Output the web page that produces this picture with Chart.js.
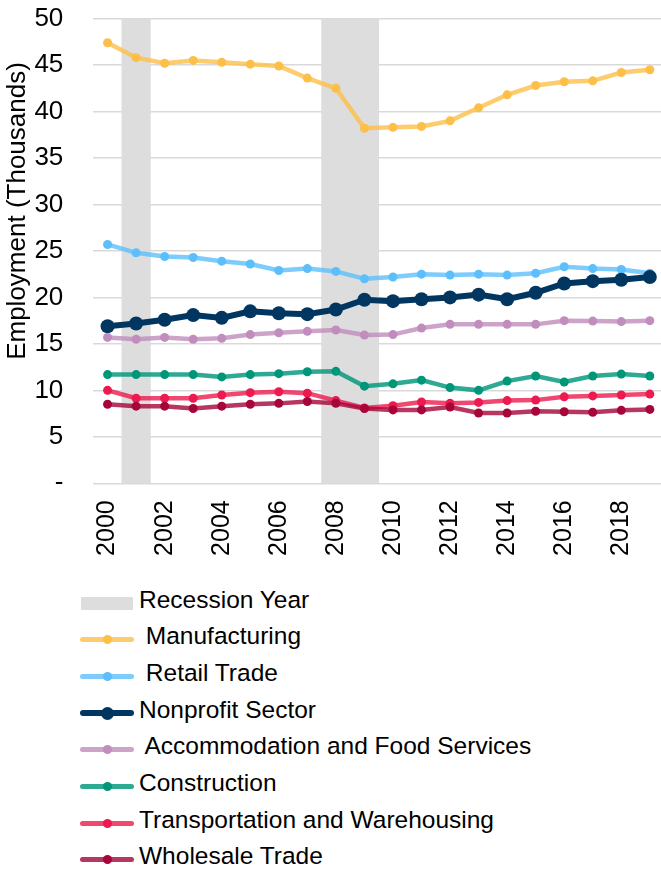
<!DOCTYPE html>
<html>
<head>
<meta charset="utf-8">
<script src="https://cdn.jsdelivr.net/npm/chart.js@4/dist/chart.umd.min.js"></script>
<style>
  html, body { margin: 0; padding: 0; background: #fff; overflow: hidden; }
  #wrap { position: relative; width: 661px; height: 873px; overflow: hidden; }
  #c { position: absolute; left: 0; top: -27px; }
  .row { position: absolute; left: 0; height: 36.67px; width: 661px; }
  .txt { position: absolute; left: 139px; top: 1px; line-height: 36.67px; font: 24.5px "Liberation Sans", Arial, sans-serif; color: #000; white-space: pre; }
  .ln { position: absolute; left: 80px; width: 54px; border-radius: 3px; }
  .pt { position: absolute; border-radius: 50%; }
  .box { position: absolute; left: 81px; width: 52px; height: 13px; background: #DDDDDD; }
</style>
</head>
<body>
<div id="wrap">
  <canvas id="c" width="697" height="607"></canvas>
  <div id="legend"></div>
</div>
<script>
const years = ["2000","2001","2002","2003","2004","2005","2006","2007","2008","2009","2010","2011","2012","2013","2014","2015","2016","2017","2018","2019"];
const recession = [null,50,null,null,null,null,null,null,50,50,null,null,null,null,null,null,null,null,null,null];
const manufacturing = [47.4,45.8,45.2,45.5,45.3,45.1,44.9,43.6,42.5,38.2,38.3,38.4,39.0,40.4,41.8,42.8,43.2,43.3,44.2,44.5];
const retailTrade = [25.7,24.8,24.4,24.3,23.9,23.6,22.9,23.1,22.8,22.0,22.2,22.5,22.4,22.5,22.4,22.6,23.3,23.1,23.0,22.6];
const nonprofitSector = [16.9,17.2,17.6,18.1,17.8,18.5,18.3,18.2,18.7,19.75,19.6,19.8,20.0,20.3,19.8,20.5,21.5,21.75,21.9,22.2];
const accommodationFood = [15.7,15.5,15.7,15.5,15.6,16.0,16.2,16.35,16.5,15.95,16.0,16.7,17.1,17.1,17.1,17.1,17.5,17.45,17.4,17.5];
const construction = [11.7,11.7,11.7,11.7,11.45,11.7,11.8,12.0,12.05,10.45,10.7,11.1,10.3,10.0,11.0,11.55,10.9,11.55,11.75,11.55];
const transportation = [10.0,9.15,9.15,9.15,9.5,9.75,9.85,9.7,8.9,8.1,8.35,8.75,8.6,8.7,8.9,8.95,9.3,9.4,9.5,9.6];
const wholesaleTrade = [8.5,8.3,8.3,8.05,8.3,8.5,8.6,8.8,8.6,8.05,7.9,7.9,8.2,7.57,7.57,7.75,7.7,7.65,7.85,7.95];
const yTicks = [0,5,10,15,20,25,30,35,40,45,50];
const yTitle = "Employment (Thousands)";

const FONT = '"Liberation Sans", Arial, sans-serif';
const CANVAS_TOP = -27;

function lineDs(label, data, ptColor, lnColor, order, big) {
  return {
    type: 'line', label, data, order,
    borderColor: lnColor, backgroundColor: ptColor,
    pointBackgroundColor: ptColor, pointBorderColor: ptColor,
    borderWidth: big ? 6 : 4.5,
    pointRadius: big ? 7 : 4.5, pointBorderWidth: 0,
    pointHoverRadius: big ? 7 : 4.5,
    tension: 0, fill: false,
    _big: !!big, _pt: ptColor, _ln: lnColor
  };
}

const datasets = [
  { type: 'bar', label: 'Recession Year', data: recession, backgroundColor: '#DDDDDD',
    barPercentage: 1, categoryPercentage: 1, order: 10, borderWidth: 0 },
  lineDs(' Manufacturing', manufacturing, '#FCBF49', 'rgba(252,191,73,0.8)', 7),
  lineDs(' Retail Trade', retailTrade, '#5CBFFB', 'rgba(92,191,251,0.8)', 6),
  lineDs('Nonprofit Sector', nonprofitSector, '#003660', '#003660', 5, true),
  lineDs(' Accommodation and Food Services', accommodationFood, '#C08DBC', 'rgba(192,141,188,0.8)', 4),
  lineDs('Construction', construction, '#00967A', 'rgba(0,150,122,0.82)', 3),
  lineDs('Transportation and Warehousing', transportation, '#EC1A4E', 'rgba(236,26,78,0.8)', 2),
  lineDs('Wholesale Trade', wholesaleTrade, '#A6053A', 'rgba(166,5,58,0.8)', 1)
];

const yTitlePlugin = {
  id: 'yTitlePlugin',
  afterDraw(chart) {
    const ctx = chart.ctx;
    ctx.save();
    ctx.translate(18, 211 - CANVAS_TOP);
    ctx.rotate(-Math.PI / 2);
    ctx.font = '26px ' + FONT;
    ctx.fillStyle = '#000';
    ctx.textAlign = 'center';
    ctx.textBaseline = 'middle';
    ctx.fillText(yTitle, 0, 0);
    ctx.restore();
  }
};

const chart = new Chart(document.getElementById('c'), {
  data: { labels: years, datasets },
  options: {
    responsive: false,
    animation: false,
    devicePixelRatio: 1,
    layout: { padding: { top: 17, right: 0, left: 0, bottom: 0 } },
    plugins: { legend: { display: false }, tooltip: { enabled: false } },
    scales: {
      x: {
        type: 'category',
        offset: true,
        grid: { display: false, drawTicks: false },
        border: { display: false },
        afterFit(s) { s.height = 607 - (483.3 - CANVAS_TOP); },
        ticks: {
          autoSkip: false, maxRotation: 90, minRotation: 90, padding: 17,
          color: '#000', font: { family: FONT, size: 25 },
          callback(v, i) { return i % 2 === 0 ? years[i] : ''; }
        }
      },
      y: {
        min: 0, max: 50,
        afterFit(s) { s.width = 93.3; },
        afterBuildTicks(s) { s.ticks = yTicks.map(v => ({ value: v })); },
        grid: { color: '#D9D9D9', lineWidth: 1.5, drawTicks: false },
        border: { display: false },
        ticks: {
          padding: 30, color: '#000', font: { family: FONT, size: 26 },
          callback(v) { return v === 0 ? '-' : String(v); }
        }
      }
    }
  },
  plugins: [yTitlePlugin]
});

// HTML legend built from the datasets
const legend = document.getElementById('legend');
datasets.forEach((ds, i) => {
  const row = document.createElement('div');
  row.className = 'row';
  row.style.top = (584.7 + i * 36.67) + 'px';
  if (ds.type === 'bar') {
    const b = document.createElement('div');
    b.className = 'box';
    b.style.top = ((36.67 - 13) / 2) + 'px';
    row.appendChild(b);
  } else {
    const lw = ds._big ? 6 : 5;
    const l = document.createElement('div');
    l.className = 'ln';
    l.style.height = lw + 'px';
    l.style.top = ((36.67 - lw) / 2) + 'px';
    l.style.background = ds._ln;
    row.appendChild(l);
    const r = ds._big ? 6.5 : 4.5;
    const p = document.createElement('div');
    p.className = 'pt';
    p.style.width = p.style.height = (2 * r) + 'px';
    p.style.left = (107 - r) + 'px';
    p.style.top = (36.67 / 2 - r) + 'px';
    p.style.background = ds._pt;
    row.appendChild(p);
  }
  const t = document.createElement('div');
  t.className = 'txt';
  t.textContent = ds.label;
  row.appendChild(t);
  legend.appendChild(row);
});
</script>
</body>
</html>
